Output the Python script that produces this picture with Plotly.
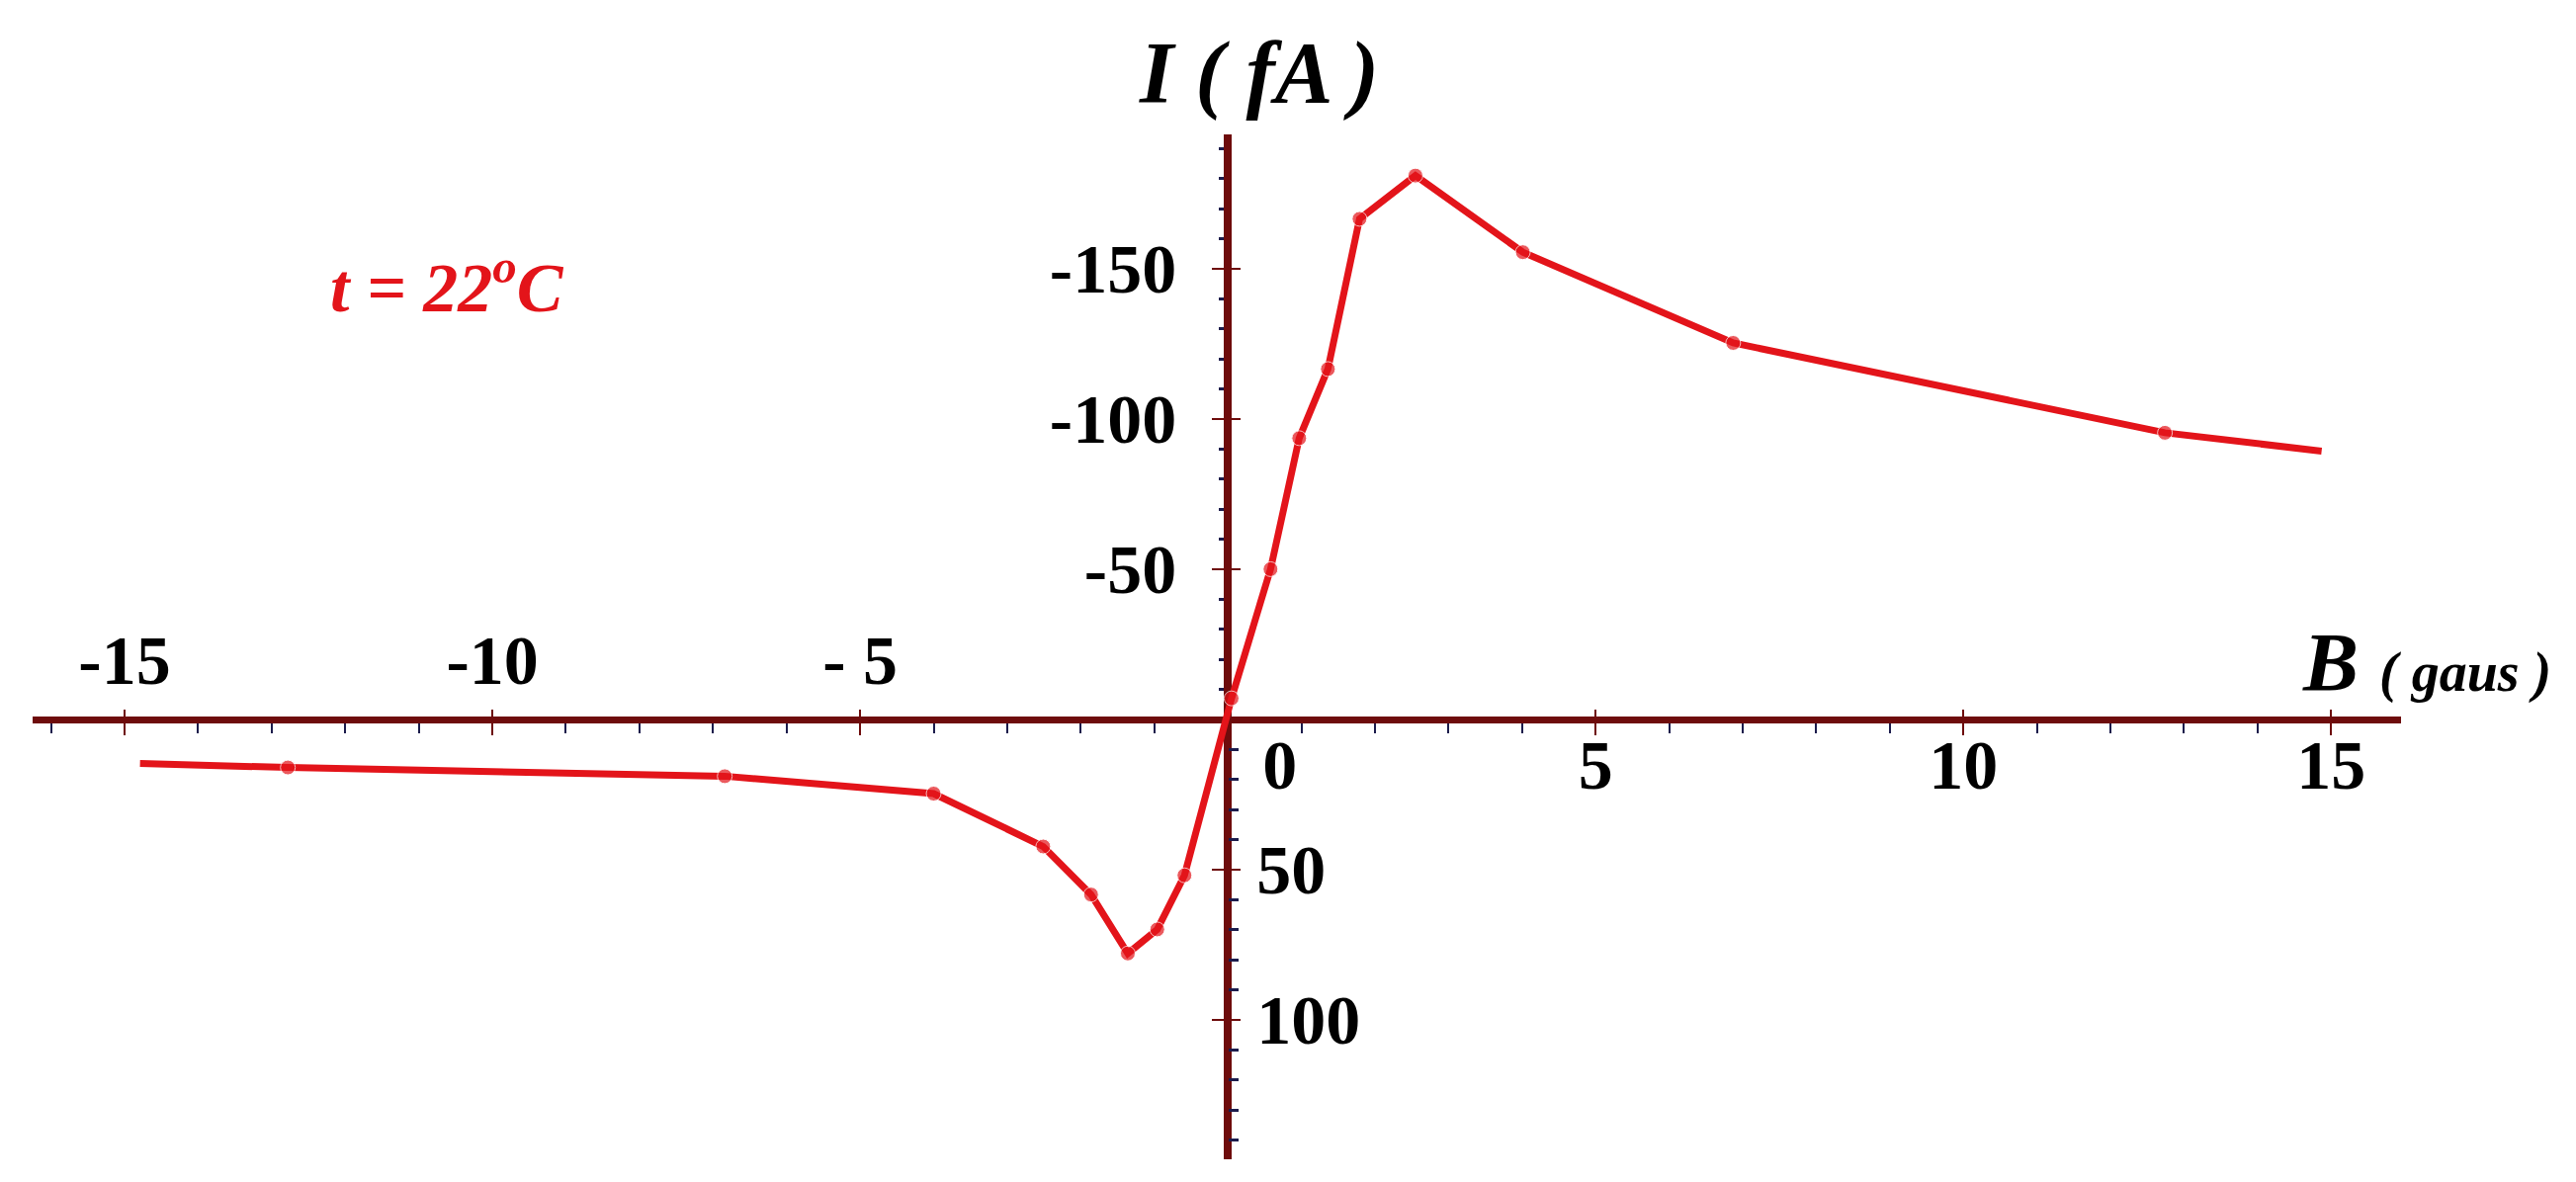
import plotly.graph_objects as go

# B (gaus) and I (fA) at t = 22 C
b_gauss = [-14.79, -12.78, -6.84, -4.0, -2.51, -1.86, -1.36, -0.96, -0.59, 0.05,
           0.58, 0.97, 1.36, 1.79, 2.55, 4.01, 6.87, 12.74, 14.87]
i_fa = [14.7, 16.0, 18.9, 24.7, 42.3, 58.3, 77.9, 69.9, 51.9, -7.0,
        -50.0, -93.6, -116.6, -166.6, -181.0, -155.5, -125.3, -95.4, -89.3]

NB = "\u00a0"
x_ticks = [-15, -10, -5, 0, 5, 10, 15]
x_labels_top = ["-15", "-10", "- 5", "", "", "", ""]
x_labels_bottom = ["", "", "", NB * 6 + "0", "5", "10", "15"]
x_minor = [v for v in range(-16, 16) if v % 5]

y_ticks_neg = [-150, -100, -50]
y_ticks_pos = [50, 100]
y_minor_neg = [v for v in range(-190, 0, 10) if v % 50]
y_minor_pos = [v for v in range(10, 150, 10) if v % 50]

X_RANGE = [-16.25, 15.95]
Y_RANGE = [146.4, -194.7]   # bottom -> top, negative current drawn upward

AXIS = "#6e0c0c"
MINOR = "#1c1c4c"
RED = "#e3141a"
SERIF = "Liberation Serif"

x0_pos = (0 - X_RANGE[0]) / (X_RANGE[1] - X_RANGE[0])
y0_pos = (0 - Y_RANGE[0]) / (Y_RANGE[1] - Y_RANGE[0])

tick_font = dict(family=SERIF, size=70, color="black", weight="bold")

fig = go.Figure()

# marker on every measured point except the two ends of the line
sizes = [0] + [15] * (len(b_gauss) - 2) + [0]
fig.add_scatter(
    x=b_gauss, y=i_fa,
    mode="lines+markers",
    line=dict(color=RED, width=7),
    marker=dict(color=RED, size=sizes),
    showlegend=False,
    hoverinfo="skip",
)
# same data on the overlay axes (invisible) so their labels get drawn
fig.add_scatter(
    x=b_gauss, y=i_fa, xaxis="x2", yaxis="y2",
    mode="lines", line=dict(width=0), opacity=0,
    showlegend=False, hoverinfo="skip",
)

fig.update_layout(
    width=2606, height=1196,
    margin=dict(l=25, r=185, t=128, b=31),
    paper_bgcolor="white",
    plot_bgcolor="white",
    showlegend=False,
    xaxis=dict(
        range=X_RANGE, anchor="free", position=y0_pos, side="bottom",
        showgrid=False, zeroline=False,
        showline=True, linecolor=AXIS, linewidth=7,
        tickmode="array", tickvals=x_ticks, ticktext=x_labels_bottom,
        ticks="outside", ticklen=12, tickwidth=2, tickcolor=AXIS,
        tickfont=tick_font, ticklabelstandoff=-30,
        minor=dict(tickmode="array", tickvals=x_minor, ticks="outside",
                   ticklen=10, tickwidth=2, tickcolor=MINOR),
        layer="below traces",
    ),
    xaxis2=dict(
        range=X_RANGE, overlaying="x", anchor="free", position=y0_pos, side="top",
        showgrid=False, zeroline=False, showline=False,
        tickmode="array", tickvals=x_ticks, ticktext=x_labels_top,
        ticks="outside", ticklen=10, tickwidth=2, tickcolor=AXIS,
        tickfont=tick_font, ticklabelstandoff=-2,
        layer="below traces",
    ),
    yaxis=dict(
        range=Y_RANGE, anchor="free", position=x0_pos, side="left",
        showgrid=False, zeroline=False,
        showline=True, linecolor=AXIS, linewidth=8,
        tickmode="array", tickvals=y_ticks_neg + y_ticks_pos,
        ticktext=[str(v) for v in y_ticks_neg] + ["", ""],
        ticks="outside", ticklen=12, tickwidth=2, tickcolor=AXIS,
        tickfont=tick_font, ticklabelstandoff=22,
        minor=dict(tickmode="array", tickvals=y_minor_neg, ticks="outside",
                   ticklen=5, tickwidth=3, tickcolor=MINOR),
        layer="below traces",
    ),
    yaxis2=dict(
        range=Y_RANGE, overlaying="y", anchor="free", position=x0_pos, side="right",
        showgrid=False, zeroline=False, showline=False,
        tickmode="array", tickvals=y_ticks_neg + y_ticks_pos,
        ticktext=["", "", ""] + [str(v) for v in y_ticks_pos],
        ticks="outside", ticklen=12, tickwidth=2, tickcolor=AXIS,
        tickfont=tick_font, ticklabelstandoff=2,
        minor=dict(tickmode="array", tickvals=y_minor_pos, ticks="outside",
                   ticklen=10, tickwidth=3, tickcolor=MINOR),
        layer="below traces",
    ),
)


def px_x(p):
    return (p - 25) / (2421 - 25)


def px_y(p):
    return (1165 - p) / (1165 - 128)


fig.add_annotation(
    x=px_x(1265), y=px_y(66), xref="paper", yref="paper",
    text="<b><i>I</i></b> <b><i>( fA )</i></b>",
    showarrow=False, font=dict(family=SERIF, size=88, color="black"),
    xanchor="center", yanchor="middle",
)
fig.add_annotation(
    x=px_x(2575), y=px_y(662), xref="paper", yref="paper",
    text="<b><i>B</i></b> <b><i><span style='font-size:56px'>( gaus )</span></i></b>",
    showarrow=False, font=dict(family=SERIF, size=84, color="black"),
    xanchor="right", yanchor="middle",
)
fig.add_annotation(
    x=px_x(444), y=px_y(278), xref="paper", yref="paper",
    text="<b><i>t = 22<sup>o</sup>C</i></b>",
    showarrow=False, font=dict(family=SERIF, size=70, color=RED),
    xanchor="center", yanchor="middle",
)

fig.write_html("out.html")
